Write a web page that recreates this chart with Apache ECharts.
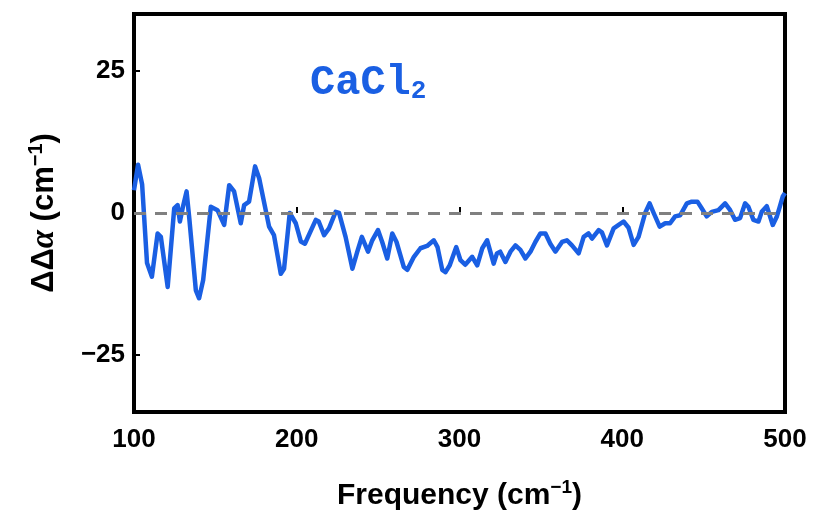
<!DOCTYPE html>
<html>
<head>
<meta charset="utf-8">
<script src="https://cdn.jsdelivr.net/npm/echarts@6/dist/echarts.min.js"></script>
<style>
  html, body { margin: 0; padding: 0; background: #fff; }
  #main { width: 816px; height: 518px; }
</style>
</head>
<body>
<div id="main"></div>
<script>
// frequency (cm^-1) and ΔΔα (cm^-1)
var freq = [100, 102.5, 105, 108, 111, 114.5, 116.5, 120.7, 124.7, 126.8, 128.2, 130, 132.3, 134, 138, 140, 142.5,
  147.2, 151.3, 155.4, 158.5, 161.5, 165.6, 167.7, 170.7, 174.4, 176.9, 183, 186, 190.2, 192.2, 195.7, 199.4,
  202.5, 205, 211.7, 213.5, 216.8, 219.8, 223.9, 226, 230, 234.2, 237.2, 240, 243.8, 246.4, 249.9, 252.5,
  255.6, 258.7, 261.3, 265.8, 267.9, 272, 276, 280.1, 284.2, 286.5, 289.4, 291.4, 294, 298, 300.6, 303.5,
  307.8, 310.9, 314, 317, 321, 323, 325, 328.2, 331.3, 334.4, 337.4, 340.5, 343.6, 346.6, 349.7, 352.8,
  355.8, 358.9, 363, 366, 369.1, 373.2, 376.3, 379.3, 381.4, 385.5, 387.5, 390.6, 394.7, 397.8, 400.8,
  403.9, 407, 410, 414.1, 416.8, 419.3, 423, 426.4, 429.4, 432.5, 435.6, 439.7, 442.7, 446.2, 448.9,
  451.9, 455, 459.1, 463.2, 466.3, 469.3, 472.4, 475.5, 477.5, 480.6, 483.7, 485.7, 488.8, 492.5, 495,
  496.5, 498.6, 500];
var dda = [4, 8.5, 5, -8.8, -11.2, -3.6, -4.2, -13, 0.8, 1.4, -1.5, 1, 3.8, -1, -13.6, -15, -11.8,
  1.1, 0.5, -2.1, 4.9, 3.8, -1.8, 1.4, 2, 8.2, 6.1, -2.4, -3.9, -10.7, -9.8, 0, -1.8,
  -5, -5.4, -1.2, -1.5, -3.9, -2.7, 0.2, 0, -4.2, -9.8, -6.8, -4.2, -6.8, -4.8, -3, -5.1,
  -8, -3.6, -5.1, -9.5, -10, -7.7, -6.2, -5.8, -4.8, -6, -10, -10.4, -9.2, -6, -8.3, -9.1,
  -7.7, -9.2, -6.2, -4.8, -8.9, -7.1, -6.8, -8.6, -6.8, -5.7, -6.5, -8, -6.8, -5.1, -3.6, -3.6,
  -5.4, -6.8, -5.1, -4.8, -5.7, -7.1, -4.2, -3.6, -4.5, -3, -3.4, -5.7, -2.7, -2.1, -1.5,
  -2.6, -5.6, -4.2, 0, 1.7, 0, -2.4, -1.8, -1.8, -0.6, -0.4, 1.7, 2, 2, 0.8,
  -0.6, 0.2, 0.5, 1.7, 0.5, -1.2, -0.9, 1.7, 1.1, -1.2, -1.5, 0.2, 1.2, -2.1, -0.6,
  0.8, 2.9, 3.5];
var yTicks = [-25, 0, 25];

var points = freq.map(function (f, i) { return [f, dda[i]]; });

var myChart = echarts.init(document.getElementById('main'));
var option = {
  animation: false,
  title: {
    text: 'CaCl{sub|2}',
    left: 305,
    top: 57,
    textStyle: {
      fontFamily: 'Liberation Mono',
      fontWeight: 'bold',
      fontSize: 42,
      color: '#1a5fe3',
      rich: {
        sub: { fontFamily: 'Liberation Mono', fontWeight: 'bold', fontSize: 26, color: '#1a5fe3', padding: [16, 0, 0, 0] }
      }
    }
  },
  grid: {
    left: 134, right: 31, top: 14, bottom: 106,
    show: true, borderColor: '#000', borderWidth: 4, backgroundColor: '#fff'
  },
  xAxis: {
    type: 'value',
    min: 100, max: 500, interval: 100,
    name: 'Frequency (cm{sup|−1})',
    nameLocation: 'middle',
    nameGap: 66,
    nameTextStyle: {
      fontFamily: 'Liberation Sans', fontWeight: 'bold', fontSize: 30, color: '#000',
      rich: { sup: { fontFamily: 'Liberation Sans', fontWeight: 'bold', fontSize: 19, color: '#000', padding: [0, 0, 16, 0] } }
    },
    axisLine: { show: false },
    axisTick: { show: true, inside: true, length: 6, lineStyle: { color: '#000', width: 2 } },
    axisLabel: { margin: 15, fontFamily: 'Liberation Sans', fontWeight: 'bold', fontSize: 26, color: '#000' },
    splitLine: { show: false }
  },
  yAxis: {
    type: 'value',
    min: -35, max: 35,
    name: 'ΔΔ{a|α} (cm{sup|−1})',
    nameLocation: 'middle',
    nameRotate: 90,
    nameGap: 72,
    nameTextStyle: {
      fontFamily: 'Liberation Sans', fontWeight: 'bold', fontSize: 31, color: '#000',
      rich: {
        a: { fontFamily: 'Liberation Serif', fontStyle: 'italic', fontSize: 33, color: '#000' },
        sup: { fontFamily: 'Liberation Sans', fontWeight: 'bold', fontSize: 20, color: '#000', padding: [0, 0, 16, 0] }
      }
    },
    axisLine: { show: false },
    axisTick: { show: true, inside: true, length: 6, customValues: yTicks, lineStyle: { color: '#000', width: 2 } },
    axisLabel: {
      margin: 9, customValues: yTicks, fontFamily: 'Liberation Sans', fontWeight: 'bold', fontSize: 26, color: '#000',
      formatter: function (v) { return v < 0 ? '−' + Math.abs(v) : String(v); }
    },
    splitLine: { show: false }
  },
  series: [{
    type: 'line',
    data: points,
    showSymbol: false,
    lineStyle: { color: '#1a5fe3', width: 4.5, join: 'round' },
    markLine: {
      silent: true,
      symbol: 'none',
      label: { show: false },
      lineStyle: { color: '#808080', type: [12, 9], width: 3 },
      data: [{ yAxis: 0 }]
    }
  }]
};
myChart.setOption(option);
</script>
</body>
</html>
